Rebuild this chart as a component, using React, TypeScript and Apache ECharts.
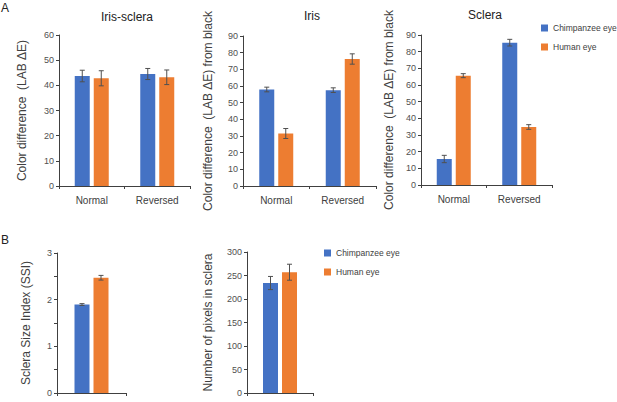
import React, { useEffect, useRef } from "react";
import * as echarts from "echarts";

const categories = ["Normal", "Reversed"];
const seriesNames = ["Chimpanzee eye", "Human eye"];

const irisScleraChimp = [43.7, 44.5];
const irisScleraChimpErr = [2.3, 2.2];
const irisScleraHuman = [42.8, 43.2];
const irisScleraHumanErr = [3.0, 2.9];

const irisChimp = [57.9, 57.5];
const irisChimpErr = [1.4, 1.4];
const irisHuman = [31.5, 76.2];
const irisHumanErr = [3.0, 3.1];

const scleraChimp = [15.6, 85.4];
const scleraChimpErr = [2.2, 2.0];
const scleraHuman = [65.6, 34.8];
const scleraHumanErr = [1.2, 1.4];

const ssiChimp = [1.895];
const ssiChimpErr = [0.02];
const ssiHuman = [2.47];
const ssiHumanErr = [0.05];

const pixelsChimp = [234];
const pixelsChimpErr = [14];
const pixelsHuman = [257];
const pixelsHumanErr = [17];

const COLORS = ["#4472C4", "#ED7D31"];
const FONT = "'Liberation Sans', Arial, sans-serif";
const AXIS_COLOR = "#404040";
const LABEL_COLOR = "#505050";

type Panel = {
  grid: { left: number; top: number; width: number; height: number };
  cats: string[];
  chimp: number[];
  chimpErr: number[];
  human: number[];
  humanErr: number[];
  max: number;
  interval: number;
  yName: string;
  nameGap: number;
  labelEvery?: number;
};

const panels: Panel[] = [
  {
    grid: { left: 59, top: 35, width: 131, height: 151 },
    cats: categories,
    chimp: irisScleraChimp,
    chimpErr: irisScleraChimpErr,
    human: irisScleraHuman,
    humanErr: irisScleraHumanErr,
    max: 60,
    interval: 10,
    yName: "Color difference  (LAB ΔE)",
    nameGap: 31,
  },
  {
    grid: { left: 243, top: 36, width: 133, height: 150 },
    cats: categories,
    chimp: irisChimp,
    chimpErr: irisChimpErr,
    human: irisHuman,
    humanErr: irisHumanErr,
    max: 90,
    interval: 10,
    yName: "Color difference  (LAB ΔE) from black",
    nameGap: 29,
  },
  {
    grid: { left: 421, top: 35, width: 131, height: 150 },
    cats: categories,
    chimp: scleraChimp,
    chimpErr: scleraChimpErr,
    human: scleraHuman,
    humanErr: scleraHumanErr,
    max: 90,
    interval: 10,
    yName: "Color difference  (LAB ΔE) from black",
    nameGap: 26,
  },
  {
    grid: { left: 57, top: 253, width: 69, height: 147 },
    cats: [""],
    chimp: ssiChimp,
    chimpErr: ssiChimpErr,
    human: ssiHuman,
    humanErr: ssiHumanErr,
    max: 3,
    interval: 0.5,
    yName: "Sclera Size Index (SSI)",
    nameGap: 25,
    labelEvery: 1,
  },
  {
    grid: { left: 247, top: 252, width: 66, height: 146 },
    cats: [""],
    chimp: pixelsChimp,
    chimpErr: pixelsChimpErr,
    human: pixelsHuman,
    humanErr: pixelsHumanErr,
    max: 300,
    interval: 50,
    yName: "Number of pixels in sclera",
    nameGap: 33,
  },
];

const titles = [
  { text: "Iris-sclera", x: 127, y: 17 },
  { text: "Iris", x: 312, y: 16 },
  { text: "Sclera", x: 485, y: 15 },
];

const BAR_WIDTH = 15;
const BAR_GAP_PX = 4;

function errorSeries(idx: number, vals: number[], errs: number[], offset: number) {
  return {
    type: "custom",
    xAxisIndex: idx,
    yAxisIndex: idx,
    z: 5,
    silent: true,
    encode: { x: 0, y: 1 },
    data: vals.map((v, i) => [i, v, errs[i]]),
    renderItem: (params: any, api: any) => {
      const x = api.value(0);
      const v = api.value(1);
      const e = api.value(2);
      const hi = api.coord([x, v + e]);
      const lo = api.coord([x, v - e]);
      const cx = hi[0] + offset;
      const cap = 2.5;
      const style = { stroke: "#505050", lineWidth: 1 };
      return {
        type: "group",
        children: [
          { type: "line", shape: { x1: cx, y1: hi[1], x2: cx, y2: lo[1] }, style },
          { type: "line", shape: { x1: cx - cap, y1: hi[1], x2: cx + cap, y2: hi[1] }, style },
          { type: "line", shape: { x1: cx - cap, y1: lo[1], x2: cx + cap, y2: lo[1] }, style },
        ],
      };
    },
  };
}

export default function App() {
  const ref = useRef<HTMLDivElement>(null);

  useEffect(() => {
    if (!ref.current) return;
    const chart = echarts.init(ref.current, null, { renderer: "svg" });
    const off = (BAR_WIDTH + BAR_GAP_PX) / 2;

    const series: any[] = [];
    panels.forEach((p, i) => {
      series.push({
        type: "bar",
        name: seriesNames[0],
        xAxisIndex: i,
        yAxisIndex: i,
        data: p.chimp,
        barWidth: BAR_WIDTH,
        barGap: `${(BAR_GAP_PX / BAR_WIDTH) * 100}%`,
        itemStyle: { color: COLORS[0] },
      });
      series.push({
        type: "bar",
        name: seriesNames[1],
        xAxisIndex: i,
        yAxisIndex: i,
        data: p.human,
        barWidth: BAR_WIDTH,
        barGap: `${(BAR_GAP_PX / BAR_WIDTH) * 100}%`,
        itemStyle: { color: COLORS[1] },
      });
      series.push(errorSeries(i, p.chimp, p.chimpErr, -off));
      series.push(errorSeries(i, p.human, p.humanErr, off));
    });

    const legendCommon = {
      orient: "vertical",
      icon: "rect",
      itemWidth: 7,
      itemHeight: 7,
      itemGap: 7,
      selectedMode: false,
      padding: 0,
      data: seriesNames,
      textStyle: { fontFamily: FONT, fontSize: 8.5, color: "#404040", lineHeight: 12 },
    };

    chart.setOption({
      animation: false,
      backgroundColor: "#ffffff",
      textStyle: { fontFamily: FONT },
      grid: panels.map((p) => ({ ...p.grid, containLabel: false })),
      xAxis: panels.map((p, i) => ({
        type: "category",
        gridIndex: i,
        data: p.cats,
        axisLine: { lineStyle: { color: AXIS_COLOR, width: 1 } },
        axisTick: { show: true, length: 3, lineStyle: { color: AXIS_COLOR } },
        axisLabel: { color: "#404040", fontSize: 10, margin: 9, fontFamily: FONT },
        splitLine: { show: false },
      })),
      yAxis: panels.map((p, i) => ({
        type: "value",
        gridIndex: i,
        min: 0,
        max: p.max,
        interval: p.interval,
        name: p.yName,
        nameLocation: "middle",
        nameGap: p.nameGap,
        nameTextStyle: { fontFamily: FONT, fontSize: 12, color: "#404040" },
        axisLine: { show: true, lineStyle: { color: AXIS_COLOR, width: 1 } },
        axisTick: { show: true, length: 3, lineStyle: { color: AXIS_COLOR } },
        axisLabel: {
          color: LABEL_COLOR,
          fontSize: 9,
          margin: 5,
          fontFamily: FONT,
          formatter: (v: number) =>
            p.labelEvery ? (Math.abs(v - Math.round(v)) < 1e-9 ? String(Math.round(v)) : "") : String(v),
        },
        splitLine: { show: false },
      })),
      legend: [
        { ...legendCommon, left: 541, top: 22 },
        { ...legendCommon, left: 324, top: 247 },
      ],
      graphic: [
        ...titles.map((t) => ({
          type: "text",
          x: t.x,
          y: t.y,
          style: {
            text: t.text,
            fontFamily: FONT,
            fontSize: 12,
            fill: "#222",
            align: "center",
            verticalAlign: "middle",
          },
        })),
        {
          type: "text",
          x: 1,
          y: 8,
          style: { text: "A", fontFamily: FONT, fontSize: 12, fill: "#222", verticalAlign: "middle" },
        },
        {
          type: "text",
          x: 1,
          y: 240,
          style: { text: "B", fontFamily: FONT, fontSize: 12, fill: "#222", verticalAlign: "middle" },
        },
      ],
      series,
    });

    return () => chart.dispose();
  }, []);

  return (
    <div
      ref={ref}
      style={{ position: "fixed", left: 0, top: 0, width: 617, height: 402 }}
    />
  );
}
